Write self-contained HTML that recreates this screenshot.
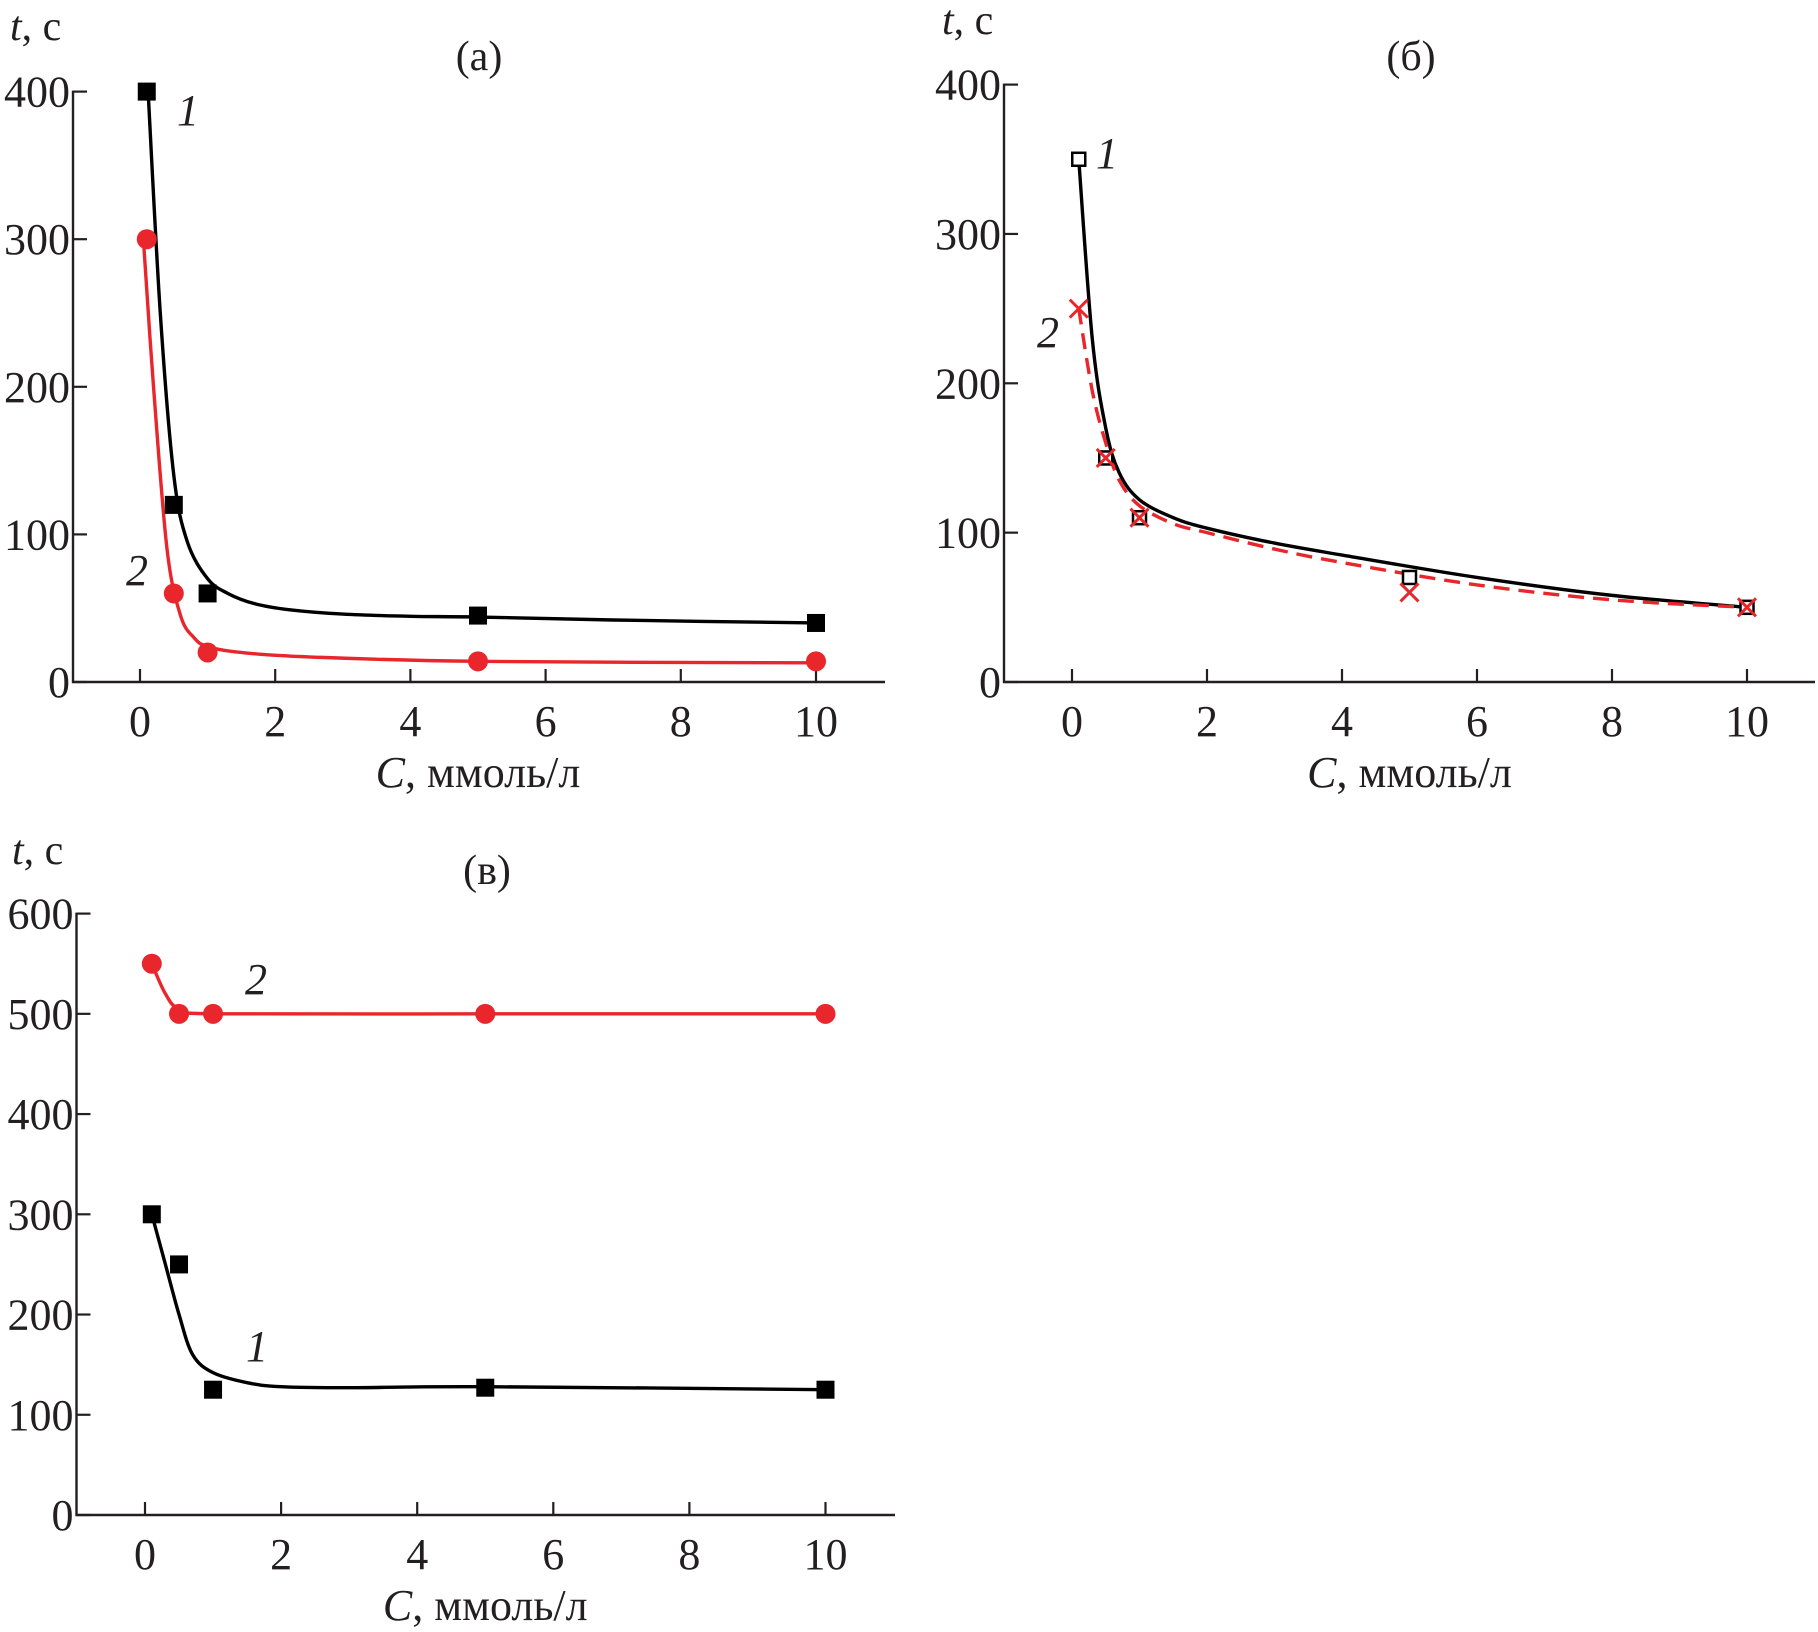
<!DOCTYPE html>
<html><head><meta charset="utf-8"><style>
html,body{margin:0;padding:0;background:#fff}
svg{display:block}
text{font-family:"Liberation Serif",serif;fill:#231f20}
</style></head><body>
<svg id="chart" width="1818" height="1632" viewBox="0 0 1818 1632"></svg>
<script>
// ---- data ----
const categoriesX = [0.1, 0.5, 1, 5, 10];
const aSeries1 = [400, 120, 60, 45, 40];
const aSeries2 = [300, 60, 20, 14, 14];
const bSeries1 = [350, 150, 110, 70, 50];
const bSeries2 = [250, 150, 110, 60, 50];
const cSeries1 = [300, 250, 125, 127, 125];
const cSeries2 = [550, 500, 500, 500, 500];
// fitted curves
const aFit1X = [0.12, 0.3, 0.5, 0.7, 1, 1.3, 1.7, 2.2, 3, 4, 5, 7, 10];
const aFit1Y = [400, 250, 140, 95, 70, 60, 53, 49, 46, 44.5, 44, 42, 40];
const aFit2X = [0.05, 0.2, 0.4, 0.6, 0.8, 1, 1.5, 2.5, 5, 10];
const aFit2Y = [300, 200, 90, 45, 30, 24, 20, 17, 14, 13];
const bFit1X = [0.1, 0.3, 0.5, 0.7, 1, 1.5, 2, 3, 4, 6, 8, 10];
const bFit1Y = [350, 230, 170, 140, 122, 110, 103, 93, 85, 70, 58, 50];
const bFit2X = [0.1, 0.3, 0.5, 0.7, 1, 1.5, 2, 3, 4, 6, 8, 10];
const bFit2Y = [250, 195, 160, 135, 118, 106, 100, 89, 80, 65, 55, 50];
const cFit1X = [0.1, 0.3, 0.5, 0.7, 1, 1.5, 2, 3, 5, 10];
const cFit1Y = [300, 250, 200, 160, 142, 132, 128, 127, 128, 125];
const cFit2X = [0.1, 0.3, 0.5, 1, 5, 10];
const cFit2Y = [550, 520, 505, 500, 500, 500];
const xTicks = [0, 2, 4, 6, 8, 10];
const yTicksAB = [0, 100, 200, 300, 400];
const yTicksC = [0, 100, 200, 300, 400, 500, 600];

const NS = "http://www.w3.org/2000/svg";
const svg = document.getElementById('chart');
const RED = "#e8262b";
function mk(tag, attrs, parent) {
  const e = document.createElementNS(NS, tag);
  for (const k in attrs) e.setAttribute(k, attrs[k]);
  (parent || svg).appendChild(e);
  return e;
}
function smoothPath(pts) {
  let d = "M" + pts[0][0] + "," + pts[0][1];
  for (let i = 0; i < pts.length - 1; i++) {
    const p0 = pts[i - 1] || pts[i], p1 = pts[i], p2 = pts[i + 1], p3 = pts[i + 2] || p2;
    const c1 = [p1[0] + (p2[0] - p0[0]) / 6, p1[1] + (p2[1] - p0[1]) / 6];
    const c2 = [p2[0] - (p3[0] - p1[0]) / 6, p2[1] - (p3[1] - p1[1]) / 6];
    d += " C" + c1 + " " + c2 + " " + p2;
  }
  return d;
}
function panel(cfg) {
  const g = mk('g', {});
  
  
  const sx = v => cfg.x0 + (v / 10) * (cfg.x10 - cfg.x0);
  const sy = v => cfg.yb - (v / cfg.ymax) * (cfg.yb - cfg.yt);
  const ax = mk('path', {d: `M${cfg.ax},${cfg.yt - 1} V${cfg.yb} H${cfg.xr}`, stroke: "#231f20", 'stroke-width': 2.4, fill: "none"}, g);
  
  
  xTicks.forEach(t => {
    const tk = mk('line', {x1: sx(t), x2: sx(t), y1: cfg.yb, y2: cfg.yb - 13, stroke: "#231f20", 'stroke-width': 2.2}, g);
    
    
    const tl = mk('text', {x: sx(t), y: cfg.yb + 54, 'font-size': 44, 'text-anchor': 'middle'}, g);
    tl.textContent = t;
    
    
  });
  cfg.yTicks.forEach(t => {
    const tk = mk('line', {x1: cfg.ax, x2: cfg.ax + 14, y1: sy(t), y2: sy(t), stroke: "#231f20", 'stroke-width': 2.2}, g);
    
    
    const tl = mk('text', {x: cfg.ax - 3, y: sy(t) + 15, 'font-size': 44, 'text-anchor': 'end'}, g);
    tl.textContent = t;
    
    
  });
  const yt = mk('text', {x: cfg.ytx, y: cfg.yty, 'font-size': 42}, g);
  yt.innerHTML = '<tspan font-style="italic">t</tspan>, с';
  
  
  const xt = mk('text', {x: (cfg.x0 + cfg.x10) / 2, y: cfg.yb + 105, 'font-size': 44, 'text-anchor': 'middle'}, g);
  xt.innerHTML = '<tspan font-style="italic">C</tspan>, ммоль/л';
  
  
  const pt = mk('text', {x: cfg.px, y: cfg.py, 'font-size': 42, 'text-anchor': 'middle'}, g);
  pt.textContent = cfg.title;
  
  
  cfg.curves.forEach(c => {
    const pts = c.x.map((v, i) => [sx(v), sy(c.y[i])]);
    const p = mk('path', {d: smoothPath(pts), fill: 'none', stroke: c.color, 'stroke-width': 3.4, 'stroke-dasharray': c.dash || 'none'}, g);
    
    
  });
  cfg.series.forEach(s => {
    s.values.forEach((v, i) => {
      const X = sx(categoriesX[i]), Y = sy(v);
      let m;
      if (s.marker === 'square') m = mk('rect', {x: X - 9, y: Y - 9, width: 18, height: 18, fill: '#000'}, g);
      else if (s.marker === 'open') m = mk('rect', {x: X - 6.5, y: Y - 6.5, width: 13, height: 13, fill: '#fff', stroke: '#000', 'stroke-width': 2.5}, g);
      else if (s.marker === 'circle') m = mk('circle', {cx: X, cy: Y, r: 10, fill: RED}, g);
      else m = mk('path', {d: `M${X-9},${Y-9} L${X+9},${Y+9} M${X+9},${Y-9} L${X-9},${Y+9}`, stroke: RED, 'stroke-width': 3, fill: 'none'}, g);
      
      
    });
  });
  cfg.labels.forEach(l => {
    const t = mk('text', {x: l[1], y: l[2], 'font-size': 44, 'font-style': 'italic', 'text-anchor': 'middle'}, g);
    t.textContent = l[0];
    
    
  });
}
panel({name: 'panel-a', title: '(a)', px: 479, py: 70, ytx: 10, yty: 40,
  ax: 73, yt: 91.6, yb: 682, xr: 885, x0: 140, x10: 816, ymax: 400, yTicks: yTicksAB,
  curves: [{name: 'curve-1', x: aFit1X, y: aFit1Y, color: '#000'}, {name: 'curve-2', x: aFit2X, y: aFit2Y, color: RED}],
  series: [{name: 'series-1', values: aSeries1, marker: 'square'}, {name: 'series-2', values: aSeries2, marker: 'circle'}],
  labels: [['1', 188, 125], ['2', 137, 585]]});
panel({name: 'panel-b', title: '(б)', px: 1411, py: 70, ytx: 942, yty: 34,
  ax: 1004, yt: 84.6, yb: 682, xr: 1815, x0: 1072, x10: 1747, ymax: 400, yTicks: yTicksAB,
  curves: [{name: 'curve-1', x: bFit1X, y: bFit1Y, color: '#000'}, {name: 'curve-2', x: bFit2X, y: bFit2Y, color: RED, dash: '16,9'}],
  series: [{name: 'series-1', values: bSeries1, marker: 'open'}, {name: 'series-2', values: bSeries2, marker: 'x'}],
  labels: [['1', 1107, 168], ['2', 1048, 347]]});
panel({name: 'panel-c', title: '(в)', px: 487, py: 884, ytx: 12, yty: 864,
  ax: 76.5, yt: 913.6, yb: 1515, xr: 895, x0: 145, x10: 825.5, ymax: 600, yTicks: yTicksC,
  curves: [{name: 'curve-1', x: cFit1X, y: cFit1Y, color: '#000'}, {name: 'curve-2', x: cFit2X, y: cFit2Y, color: RED}],
  series: [{name: 'series-1', values: cSeries1, marker: 'square'}, {name: 'series-2', values: cSeries2, marker: 'circle'}],
  labels: [['2', 256, 994], ['1', 257, 1361]]});
</script>
</body></html>
